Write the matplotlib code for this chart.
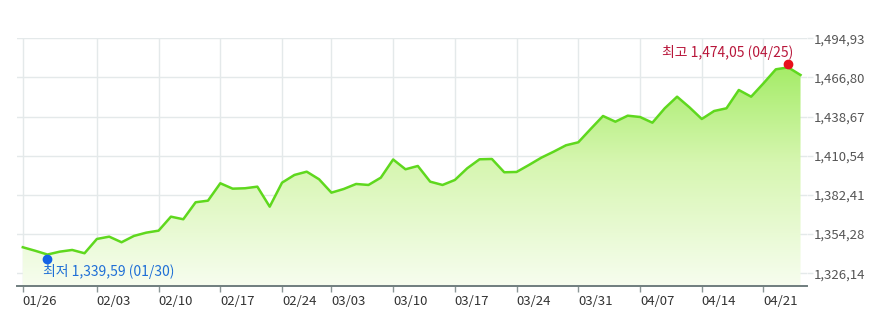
import matplotlib
matplotlib.use('Agg')
import numpy as np
import matplotlib.pyplot as plt
import matplotlib.transforms as mtransforms
from matplotlib.colors import LinearSegmentedColormap
from matplotlib.patches import PathPatch

plt.rcParams['font.family'] = ['Noto Sans CJK KR', 'DejaVu Sans']

# daily index values (one point per trading day)
values = [1344.81, 1342.30, 1339.59, 1341.65, 1342.87, 1340.50, 1350.77, 1352.43,
          1348.40, 1352.93, 1355.30, 1356.74, 1366.79, 1364.92, 1377.13, 1378.28,
          1390.78, 1386.90, 1387.19, 1388.34, 1373.97, 1391.21, 1396.74, 1399.11,
          1393.65, 1384.03, 1386.68, 1390.28, 1389.56, 1394.80, 1407.87, 1400.83,
          1403.20, 1391.93, 1389.56, 1393.15, 1401.55, 1408.01, 1408.23, 1398.68,
          1398.90, 1403.92, 1409.16, 1413.47, 1418.07, 1420.22, 1429.78, 1439.11,
          1435.02, 1439.33, 1438.39, 1434.30, 1444.64, 1452.98, 1445.36, 1436.96,
          1442.70, 1444.64, 1457.79, 1452.98, 1462.60, 1472.65, 1474.05, 1468.56]

tick_idx = [0, 6, 11, 16, 21, 25, 30, 35, 40, 45, 50, 55, 60]
tick_labels = ['01/26', '02/03', '02/10', '02/17', '02/24', '03/03', '03/10',
               '03/17', '03/24', '03/31', '04/07', '04/14', '04/21']
y_ticks = [1326.14, 1354.28, 1382.41, 1410.54, 1438.67, 1466.80, 1494.93]
y_tick_labels = ['1,326,14', '1,354,28', '1,382,41', '1,410,54',
                 '1,438,67', '1,466,80', '1,494,93']

min_label = '최저 1,339,59 (01/30)'
max_label = '최고 1,474,05 (04/25)'

x = np.arange(len(values))
ymin, ymax = 1317.2, 1494.93
xlo, xhi = -0.49, 63.5

fig = plt.figure(figsize=(8.86, 3.31), dpi=100)
ax = fig.add_axes([0.0189, 0.1369, 0.8916, 0.7474])

grid_col = '#e4e9ea'
ax.set_xlim(xlo, xhi)
ax.set_ylim(ymin, ymax)
ax.set_yticks(y_ticks)
ax.set_yticklabels(y_tick_labels)
ax.set_xticks(tick_idx)
ax.set_xticklabels(tick_labels, ha='left')
ax.yaxis.tick_right()
ax.grid(True, color=grid_col, linewidth=1.0, zorder=0)
ax.set_axisbelow(True)

for s in ['top', 'left', 'right']:
    ax.spines[s].set_visible(False)
ax.spines['bottom'].set_color('#6f7d7e')
ax.spines['bottom'].set_linewidth(1.4)

ax.tick_params(axis='x', direction='out', length=4, width=1, color='#8a9696',
               labelsize=9.5, labelcolor='#333333', pad=3)
ax.tick_params(axis='y', direction='out', length=4, width=1, color=grid_col,
               labelsize=9.5, labelcolor='#555555', pad=1)

# gradient fill under the line
cmap = LinearSegmentedColormap.from_list('g', ['#f7fdef', '#d6f6b0', '#96e952'])
grad = np.linspace(0, 1, 256).reshape(-1, 1)
img = ax.imshow(grad, extent=[xlo, xhi, ymin, ymax], origin='lower',
                aspect='auto', cmap=cmap, zorder=1, interpolation='bilinear')
poly = ax.fill_between(x, values, ymin, facecolor='none', edgecolor='none')
patch = PathPatch(poly.get_paths()[0], transform=ax.transData,
                  facecolor='none', edgecolor='none')
ax.add_patch(patch)
img.set_clip_path(patch)
ax.set_xlim(xlo, xhi)
ax.set_ylim(ymin, ymax)

ax.plot(x, values, color='#5fd81e', linewidth=1.8, zorder=3)

# min / max markers
i_min = int(np.argmin(values))
i_max = int(np.argmax(values))
tr_min = mtransforms.offset_copy(ax.transData, fig=fig, x=0, y=-3, units='points')
tr_max = mtransforms.offset_copy(ax.transData, fig=fig, x=0, y=2.5, units='points')
ax.plot(x[i_min], values[i_min], 'o', color='#1463e6', markersize=6,
        transform=tr_min, zorder=4, clip_on=False)
ax.plot(x[i_max], values[i_max], 'o', color='#e8101c', markersize=6,
        transform=tr_max, zorder=4, clip_on=False)

ax.annotate(min_label, xy=(x[i_min], values[i_min]), xytext=(-3.3, -12),
            textcoords='offset points', ha='left', va='center',
            fontsize=10, color='#1f6fd6', zorder=5)
ax.annotate(max_label, xy=(x[i_max], values[i_max]), xytext=(4, 11),
            textcoords='offset points', ha='right', va='center',
            fontsize=10, color='#b8163a', zorder=5)

fig.savefig('out.png', dpi=100, facecolor='white')
